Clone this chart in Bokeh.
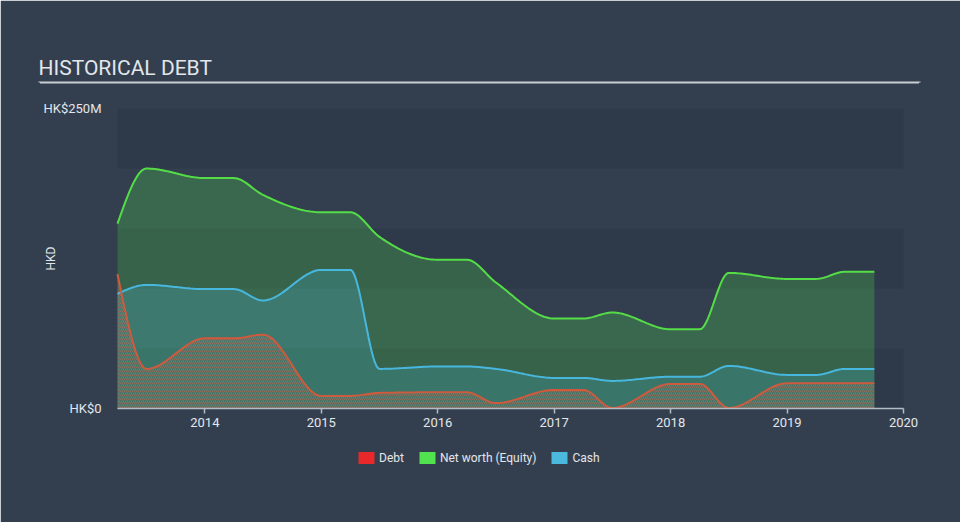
import numpy as np
from bokeh.plotting import figure
from bokeh.models import (Range1d, FixedTicker, BoxAnnotation, Legend, LegendItem,
                          LinearAxis, Label)
from bokeh.embed import file_html
from bokeh.resources import INLINE

# ---------------- data ----------------
dates = [2013.25, 2013.5, 2014.0, 2014.25, 2014.5, 2015.0, 2015.25, 2015.5,
         2016.0, 2016.25, 2016.5, 2017.0, 2017.25, 2017.5, 2018.0, 2018.25,
         2018.5, 2019.0, 2019.25, 2019.5, 2019.75]
debt = [112, 33, 58.5, 58.5, 61.5, 10.5, 10.5, 13, 13.5, 13.5, 4.5, 15.5, 15.5,
        0.5, 20.5, 20.5, 0.5, 21, 21, 21, 21]
net_worth = [154, 200, 192, 192, 178, 163.5, 163.5, 143, 124, 124, 105, 75, 75,
             80, 66, 66, 113, 108, 108, 114, 114]
cash = [95.5, 103, 99.5, 99.5, 90, 115.5, 115.5, 33, 35, 35, 33, 25.5, 25.5,
        23, 26.5, 26.5, 35.5, 28, 28, 33, 33]
year_ticks = [2014, 2015, 2016, 2017, 2018, 2019, 2020]
band_edges = [0, 50, 100, 150, 200, 250]
y_ticks = [0, 250]
y_tick_labels = {0: "HK$0", 250: "HK$250M"}
series_names = ["Debt", "Net worth (Equity)", "Cash"]
title_text = "HISTORICAL DEBT"
y_title = "HKD"

# ---------------- colours / layout constants ----------------
BG = "#333f4f"
DARK_BAND = "#2e3949"
TEXT = "#e3e6ea"
RULE = "#c9ced5"
AXIS = "#b4bcc6"
C_DEBT = "#e8282a"
C_NW = "#50e24f"
C_CASH = "#4bb8de"
L_DEBT = "#cf5a3e"
L_NW = "#55dd47"
L_CASH = "#48b7de"

W, H = 960, 522
FRAME_L, FRAME_R = 38, 920          # outer frame (title rule spans it)
FRAME_T, FRAME_B = 82, 472
DATA_L, DATA_R = 117, 903           # chart area inside the frame
DATA_T, DATA_B = 108, 408
X_END = year_ticks[-1]
Y_TOP = band_edges[-1]


def monotone(xs, ys, n=30):
    """Render-time smoothing like d3.curveMonotoneX."""
    x = np.asarray(xs, float)
    y = np.asarray(ys, float)
    h = np.diff(x)
    s = np.diff(y) / h
    m = len(x)
    t = np.zeros(m)
    for i in range(1, m - 1):
        h0, h1, s0, s1 = h[i - 1], h[i], s[i - 1], s[i]
        p_ = (s0 * h1 + s1 * h0) / (h0 + h1)
        sg = (-1 if s0 < 0 else 1) + (-1 if s1 < 0 else 1)
        t[i] = sg * min(abs(s0), abs(s1), 0.5 * abs(p_))
    t[0] = (3 * s[0] - t[1]) / 2
    t[-1] = (3 * s[-1] - t[-2]) / 2
    ox, oy = [], []
    for i in range(m - 1):
        dx = h[i]
        P0, P1 = y[i], y[i] + dx / 3 * t[i]
        P2, P3 = y[i + 1] - dx / 3 * t[i + 1], y[i + 1]
        u = np.linspace(0, 1, n)
        if i > 0:
            u = u[1:]
        ox.extend(x[i] + u * dx)
        oy.extend((1 - u) ** 3 * P0 + 3 * (1 - u) ** 2 * u * P1
                  + 3 * (1 - u) * u ** 2 * P2 + u ** 3 * P3)
    return np.array(ox), np.array(oy)


def blank_axis(color, width):
    return LinearAxis(ticker=FixedTicker(ticks=[]), axis_line_color=color,
                      axis_line_width=width, major_tick_line_color=None,
                      minor_tick_line_color=None, major_label_text_font_size="0px")


# ranges: the chart area (dates[0]..2020, 0..250) sits inside a wider frame
xppu = (DATA_R - DATA_L) / (X_END - dates[0])
yppu = (DATA_B - DATA_T) / Y_TOP
x_range = Range1d(dates[0] - (DATA_L - FRAME_L) / xppu,
                  X_END + (FRAME_R - DATA_R) / xppu)
y_range = Range1d(-(FRAME_B - DATA_B) / yppu, Y_TOP + (DATA_T - FRAME_T) / yppu)

p = figure(width=W, height=H, output_backend="svg", toolbar_location=None,
           x_range=x_range, y_range=y_range,
           min_border_left=FRAME_L, min_border_right=W - FRAME_R,
           min_border_top=FRAME_T, min_border_bottom=H - FRAME_B)
p.background_fill_color = BG
p.border_fill_color = BG
p.outline_line_color = None
p.grid.visible = False
p.extra_y_ranges = {"swatch": Range1d(-2, -1)}   # keeps legend-only glyphs out of view

# alternating bands
for i in range(len(band_edges) - 1):
    if i % 2 == 0:
        p.add_layout(BoxAnnotation(left=dates[0], right=X_END,
                                   bottom=band_edges[i], top=band_edges[i + 1],
                                   fill_color=DARK_BAND, fill_alpha=1,
                                   line_color=None, level="underlay"))

xn, yn = monotone(dates, net_worth)
xc, yc = monotone(dates, cash)
xd, yd = monotone(dates, debt)
yd = np.clip(yd, 0, None)

p.varea(x=xn, y1=0, y2=yn, fill_color=C_NW, fill_alpha=0.25)
p.varea(x=xc, y1=0, y2=yc, fill_color=C_CASH, fill_alpha=0.22)
p.varea(x=xd, y1=0, y2=yd, fill_color=L_DEBT, fill_alpha=0.06,
        hatch_pattern="/", hatch_color="#c8705a", hatch_alpha=0.55,
        hatch_scale=4, hatch_weight=1)

p.line(xn, yn, line_color=L_NW, line_width=2)
p.line(xc, yc, line_color=L_CASH, line_width=2)
p.line(xd, yd, line_color=L_DEBT, line_width=2)

# default bottom axis: only a background-coloured line on the frame edge
p.xaxis.ticker = FixedTicker(ticks=[])
p.xaxis.axis_line_color = BG
p.xaxis.axis_line_width = 3
p.xaxis.major_tick_line_color = None
p.xaxis.minor_tick_line_color = None
p.xaxis.major_label_text_font_size = "0px"

# visible x axis, drawn at y = 0
xa = LinearAxis(fixed_location=0, ticker=FixedTicker(ticks=year_ticks),
                bounds=(dates[0], X_END), axis_line_color=AXIS,
                axis_line_width=1.5, major_tick_line_color=AXIS,
                major_tick_line_width=1.5, major_tick_in=0, major_tick_out=5,
                minor_tick_line_color=None, major_label_text_color=TEXT,
                major_label_text_font="Roboto", major_label_text_font_size="13px",
                major_label_standoff=4)
p.add_layout(xa, "below")

# y axis (labels pulled into the frame so they end left of the chart area)
p.yaxis.ticker = FixedTicker(ticks=y_ticks)
p.yaxis.major_label_overrides = y_tick_labels
p.yaxis.axis_line_color = BG
p.yaxis.axis_line_width = 3
p.yaxis.major_tick_line_color = None
p.yaxis.minor_tick_line_color = None
p.yaxis.major_label_text_color = TEXT
p.yaxis.major_label_text_font = "Roboto"
p.yaxis.major_label_text_font_size = "13px"
p.yaxis.major_label_standoff = -69

p.add_layout(blank_axis(BG, 3), "right")

# y title
p.add_layout(Label(x=12, y=FRAME_B - 258, x_units="screen", y_units="screen",
                   text=y_title, angle=np.pi / 2, text_font="Roboto",
                   text_font_size="12px", text_color=TEXT,
                   text_align="center", text_baseline="middle"))

# rule under the title: an unlabeled axis line along the frame top
p.add_layout(blank_axis(RULE, 2), "above")

# title
p.title.text = title_text
p.title.align = "left"
p.title.text_font = "Roboto"
p.title.text_font_size = "21px"
p.title.text_font_style = "normal"
p.title.text_color = TEXT
p.title.standoff = 5

# legend (inside the frame, under the chart area); swatch glyphs are off-view
r_d = p.varea(x=dates, y1=0, y2=debt, fill_color=C_DEBT, y_range_name="swatch")
r_n = p.varea(x=dates, y1=0, y2=net_worth, fill_color=C_NW, y_range_name="swatch")
r_c = p.varea(x=dates, y1=0, y2=cash, fill_color=C_CASH, y_range_name="swatch")
legend = Legend(items=[LegendItem(label=series_names[0], renderers=[r_d]),
                       LegendItem(label=series_names[1], renderers=[r_n]),
                       LegendItem(label=series_names[2], renderers=[r_c])],
                orientation="horizontal", location=(318, 7),
                glyph_width=20, glyph_height=15, label_standoff=3, spacing=13,
                padding=0, margin=0, background_fill_alpha=0,
                border_line_color=None, label_text_color=TEXT,
                label_text_font="Roboto", label_text_font_size="12px")
p.add_layout(legend, "center")

html = file_html(p, INLINE)
html = html.replace("<body>", '<body style="margin:0;overflow:hidden;background:%s;">' % BG, 1)
open("out.html", "w").write(html)
